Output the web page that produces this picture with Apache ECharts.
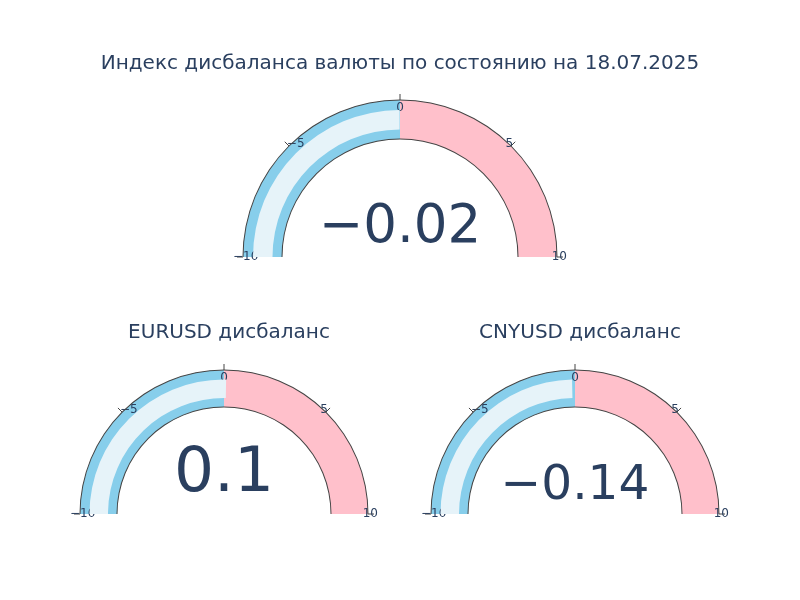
<!DOCTYPE html>
<html>
<head>
<meta charset="utf-8">
<script src="https://cdn.jsdelivr.net/npm/echarts@6/dist/echarts.min.js"></script>
<style>html,body{margin:0;padding:0;background:#fff}#main{width:800px;height:600px}</style>
</head>
<body>
<div id="main"></div>
<script>
	'use strict';

	var gaugeNames = ['main', 'EURUSD', 'CNYUSD'];
	var gaugeValues = [-0.02, 0.1, -0.14];
	var gaugeMin = -10;
	var gaugeMax = 10;
	var titles = ['Индекс дисбаланса валюты по состоянию на 18.07.2025', 'EURUSD дисбаланс', 'CNYUSD дисбаланс'];

	// layout per gauge: center, outer radius, ring width, bar offset/width, number size/offset
	var layout = [
		{ c: [400, 257], r: 157, w: 39, barGap: 10, barW: 19.5, fs: 53, dy: -29 },
		{ c: [224, 514], r: 144, w: 37, barGap: 9.5, barW: 18.5, fs: 63, dy: -39 },
		{ c: [575, 514], r: 144, w: 37, barGap: 9.5, barW: 18.5, fs: 48.6, dy: -28 }
	];

	var font = '"DejaVu Sans", verdana, arial, sans-serif';
	function fmt(v) { return String(v).replace('-', '\u2212'); }
	function only(list) {
		return function(v) { return list.indexOf(v) >= 0 ? fmt(v) : ''; };
	}

	var series = [];
	layout.forEach(function(g, i) {
		var base = {
			type: 'gauge',
			center: g.c,
			startAngle: 180,
			endAngle: 0,
			min: gaugeMin,
			max: gaugeMax,
			splitNumber: 4,
			pointer: { show: false },
			anchor: { show: false },
			title: { show: false },
			axisTick: { show: false },
			splitLine: { show: false },
			axisLabel: { show: false },
			detail: { show: false },
			silent: true,
			animation: false
		};
		// steps, ticks, number
		series.push(Object.assign({}, base, {
			radius: g.r,
			axisLine: { lineStyle: { width: g.w, color: [[0.5, '#87ceeb'], [1, '#ffc0cb']] } },
			splitLine: { show: true, length: 6, distance: -(g.w + 6), lineStyle: { color: '#444', width: 1 } },
			detail: {
				show: true, offsetCenter: [0, g.dy], fontSize: g.fs, color: '#2a3f5f',
				fontFamily: font, fontWeight: 'normal', formatter: fmt, valueAnimation: false
			},
			data: [{ value: gaugeValues[i] }]
		}));
		// tick labels in three rings so the side ones sit like the reference
		[[[0], -18], [[-5, 5], -23], [[-10, 10], -30]].forEach(function(lab) {
			series.push(Object.assign({}, base, {
				radius: g.r,
				axisLine: { show: false },
				axisLabel: { show: true, distance: lab[1], color: '#2a3f5f', fontSize: 12, fontFamily: font, formatter: only(lab[0]) },
				data: [{ value: 0 }]
			}));
		});
		// value bar
		series.push(Object.assign({}, base, {
			radius: g.r - g.barGap,
			axisLine: { show: false },
			progress: { show: true, width: g.barW, roundCap: false, itemStyle: { color: '#e6f3f9' } },
			data: [{ value: gaugeValues[i] }]
		}));
		// outlines
		[g.r + 0.5, g.r - g.w + 0.5].forEach(function(rr) {
			series.push(Object.assign({}, base, {
				radius: rr,
				axisLine: { lineStyle: { width: 1, color: [[1, '#444']] } },
				data: [{ value: 0 }]
			}));
		});
	});

	var titleStyle = { fontSize: 20, fontWeight: 'normal', color: '#2a3f5f', fontFamily: font };
	var chart = echarts.init(document.getElementById('main'));
	chart.setOption({
		backgroundColor: '#fff',
		title: [
			{ text: titles[0], left: 'center', top: 49, textStyle: titleStyle },
			{ text: titles[1], left: 224, top: 318, textAlign: 'center', textStyle: titleStyle },
			{ text: titles[2], left: 575, top: 318, textAlign: 'center', textStyle: titleStyle }
		],
		series: series
	});
	window.addEventListener('resize', function() {
		chart.resize();
	});
</script>
</body>
</html>
